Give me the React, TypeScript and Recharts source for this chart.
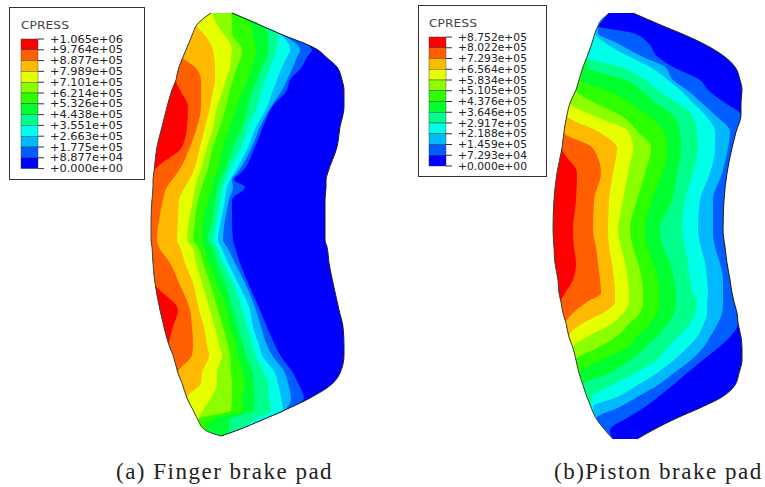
import React from "react";
import { ComposedChart, Area, Line, XAxis, YAxis } from "recharts";

const W = 765;
const H = 487;

const bandColors = ["#ff0000","#ff5f00","#ffb900","#e5ff00","#8bff00","#2eff00","#00ff2e","#00ff8b","#00ffe8","#00b9ff","#005dff","#0000ff"];
const fingerTicks = ["+1.065e+06","+9.764e+05","+8.877e+05","+7.989e+05","+7.101e+05","+6.214e+05","+5.326e+05","+4.438e+05","+3.551e+05","+2.663e+05","+1.775e+05","+8.877e+04","+0.000e+00"];
const pistonTicks = ["+8.752e+05","+8.022e+05","+7.293e+05","+6.564e+05","+5.834e+05","+5.105e+05","+4.376e+05","+3.646e+05","+2.917e+05","+2.188e+05","+1.459e+05","+7.293e+04","+0.000e+00"];

// Each row: y, then left edge, end of each of the 12 bands from red to blue (blue's end is the right edge).
const fingerRows = [
  [13, 211,211,211,211,212,231,232,232,232,232,232,232,232],
  [26, 196,196,196,197,218,232,252,262,262,262,262,262,262],
  [33, 193,193,193,203,223,232,253,268,278,278,278,278,278],
  [50, 186,186,186,213,232,242,256,268,276,290,300,312,318],
  [57, 183,183,183,214,231,241,255,267,274,287,297,307,326],
  [67, 179,179,195,215,230,237,252,262,270,282,293,302,337],
  [80, 176,176,201,215,226,233,248,257,265,277,287,290,342],
  [90, 172,180,201,213,223,230,243,253,262,273,282,287,344],
  [107, 167,188,201,210,217,226,237,248,257,267,271,272,344],
  [127, 162,187,197,205,213,220,230,242,248,256,260,263,340],
  [147, 157,182,190,200,207,213,223,233,241,248,252,255,337],
  [172, 154,154,178,193,200,207,217,224,228,235,238,242,328],
  [180, 153,153,172,189,197,204,213,220,225,230,232,234,326],
  [187, 153,153,167,185,195,202,212,218,223,227,233,245,326],
  [200, 152,152,163,179,193,198,208,215,220,225,229,232,325],
  [220, 151,151,159,178,189,195,203,212,217,221,225,232,325],
  [240, 151,151,157,177,187,193,202,208,213,218,223,233,325],
  [247, 152,152,159,180,192,198,204,212,217,221,227,235,327],
  [263, 153,153,170,185,196,203,209,217,223,228,235,240,329],
  [283, 155,155,179,193,202,210,217,225,233,238,245,248,333],
  [310, 160,178,190,199,210,218,227,233,242,250,256,260,339],
  [327, 164,173,192,204,215,223,230,238,247,253,261,267,343],
  [345, 169,169,193,207,219,228,236,243,252,259,267,275,344],
  [355, 173,173,192,209,222,230,238,246,255,262,272,280,344],
  [373, 178,178,178,202,217,231,243,252,264,275,285,293,340],
  [383, 182,182,182,201,217,232,245,254,268,278,288,298,333],
  [398, 187,187,187,187,211,232,242,254,269,281,291,304,310],
  [410, 193,193,193,193,203,231,243,254,271,283,285,285,285],
  [420, 198,198,198,198,198,198,212,229,253,262,262,262,262],
  [430, 205,205,205,205,205,206,206,229,238,238,238,238,238],
  [436, 221,221,221,221,221,221,221,221,221,221,221,221,221],
];

const pistonRows = [
  [13, 609,609,609,609,609,609,609,609,609,609,609,609,633],
  [26, 598,598,598,598,598,598,598,598,598,598,598,598,663],
  [33, 595,595,595,595,595,595,595,595,595,595,598,633,680],
  [43, 592,592,592,592,592,592,592,592,592,605,617,648,702],
  [57, 587,587,587,587,587,587,587,587,587,630,643,658,725],
  [67, 583,583,583,583,583,583,583,587,620,650,665,673,735],
  [80, 579,579,579,579,579,579,581,626,645,668,673,700,740],
  [90, 576,576,576,576,576,576,607,641,658,680,687,708,742],
  [103, 570,570,570,570,570,595,630,655,677,693,702,725,741],
  [115, 567,567,567,567,592,620,647,673,692,705,715,741,741],
  [132, 564,564,564,599,629,638,664,680,697,715,730,736,736],
  [148, 562,562,593,617,633,651,667,681,698,715,728,732,732],
  [173, 557,577,601,613,628,645,662,677,693,710,722,727,727],
  [200, 554,576,594,609,623,637,652,672,685,700,713,724,724],
  [230, 553,573,593,608,618,630,645,660,682,698,713,723,723],
  [247, 554,574,596,609,621,633,647,663,685,701,715,725,725],
  [263, 555,576,598,612,625,638,653,670,688,705,720,727,727],
  [280, 558,573,600,614,628,642,658,674,690,707,723,730,730],
  [293, 559,565,601,615,629,643,659,676,693,708,723,732,732],
  [302, 561,561,587,615,629,643,659,676,697,707,723,734,734],
  [313, 563,563,573,603,623,640,657,674,695,707,722,737,737],
  [323, 566,566,566,583,613,630,650,668,690,704,718,738,738],
  [337, 569,569,569,569,587,616,637,656,678,697,710,730,741],
  [348, 573,573,573,573,573,597,627,645,667,687,703,718,742],
  [360, 576,576,576,576,576,576,602,630,657,674,691,703,742],
  [373, 579,579,579,579,579,579,580,610,635,657,674,687,739],
  [385, 583,583,583,583,583,583,583,583,612,638,658,673,735],
  [397, 587,587,587,587,587,587,587,587,592,617,637,658,722],
  [407, 591,591,591,591,591,591,591,591,591,593,620,645,702],
  [418, 596,596,596,596,596,596,596,596,596,596,597,627,677],
  [430, 605,605,605,605,605,605,605,605,605,605,605,610,653],
  [439, 613,613,613,613,613,613,613,613,613,613,613,613,637],
];

const toData = (rows: number[][]) =>
  rows.map((r) => {
    const o: Record<string, any> = { y: r[0], left: r[1], right: r[13] };
    bandColors.forEach((_, i) => {
      o["b" + i] = [r[1], r[2 + i]];
    });
    return o;
  });

function Pad({ rows }: { rows: number[][] }) {
  const data = toData(rows);
  const order = bandColors.map((_, i) => i).reverse();
  return (
    <div style={{ position: "absolute", left: 0, top: 0 }}>
      <ComposedChart width={W} height={H} layout="vertical" data={data} margin={{ top: 0, right: 0, bottom: 0, left: 0 }}>
        <XAxis type="number" domain={[0, W]} hide />
        <YAxis type="number" dataKey="y" domain={[0, H]} hide />
        {order.map((i) => (
          <Area key={i} dataKey={"b" + i} type="monotone" fill={bandColors[i]} fillOpacity={1} stroke="none" isAnimationActive={false} dot={false} activeDot={false} />
        ))}
        <Line dataKey="left" type="monotone" stroke="#444" strokeWidth={1} dot={false} activeDot={false} isAnimationActive={false} />
        <Line dataKey="right" type="monotone" stroke="#222" strokeWidth={1} dot={false} activeDot={false} isAnimationActive={false} />
      </ComposedChart>
    </div>
  );
}

function Legend({ x, y, w, h, ticks, barX, barY, step, labelX, labelW }: any) {
  return (
    <svg width={W} height={H} style={{ position: "absolute", left: 0, top: 0, pointerEvents: "none" }}>
      <rect x={x + 0.5} y={y + 0.5} width={w} height={h} fill="#fff" stroke="#333" strokeWidth={1} />
      <text x={barX} y={barY - 10} fontFamily="'DejaVu Sans'" fontSize={10} fill="#444" textLength={48} lengthAdjust="spacingAndGlyphs">CPRESS</text>
      {bandColors.map((c, i) => (
        <rect key={c} x={barX} y={barY + i * step} width={17} height={step} fill={c} stroke="#333" strokeWidth={0.4} />
      ))}
      {ticks.map((t: string, i: number) => (
        <g key={t}>
          <line x1={barX + 17} x2={barX + 23} y1={barY + i * step} y2={barY + i * step} stroke="#333" strokeWidth={1} />
          <text x={labelX} y={barY + i * step + 3.5} fontFamily="'DejaVu Sans'" fontSize={10} fill="#222" textLength={labelW} lengthAdjust="spacingAndGlyphs">{t}</text>
        </g>
      ))}
    </svg>
  );
}

const captionStyle: React.CSSProperties = { position: "absolute", fontFamily: "'Liberation Serif'", fontSize: 23, letterSpacing: 1.5, color: "#222", whiteSpace: "nowrap", lineHeight: "24px" };

export default function App() {
  return (
    <div style={{ position: "absolute", left: 0, top: 0, width: W, height: H, background: "#fff", overflow: "hidden" }}>
      <Pad rows={fingerRows} />
      <Pad rows={pistonRows} />
      <Legend x={9} y={7} w={135} h={172} ticks={fingerTicks} barX={21} barY={39} step={10.8} labelX={50} labelW={73} />
      <Legend x={418} y={5} w={128} h={171} ticks={pistonTicks} barX={429} barY={37} step={10.75} labelX={458} labelW={69} />
      <div style={{ ...captionStyle, left: 116, top: 460 }}>(a) Finger brake pad</div>
      <div style={{ ...captionStyle, left: 554, top: 460 }}>(b)Piston brake pad</div>
    </div>
  );
}
